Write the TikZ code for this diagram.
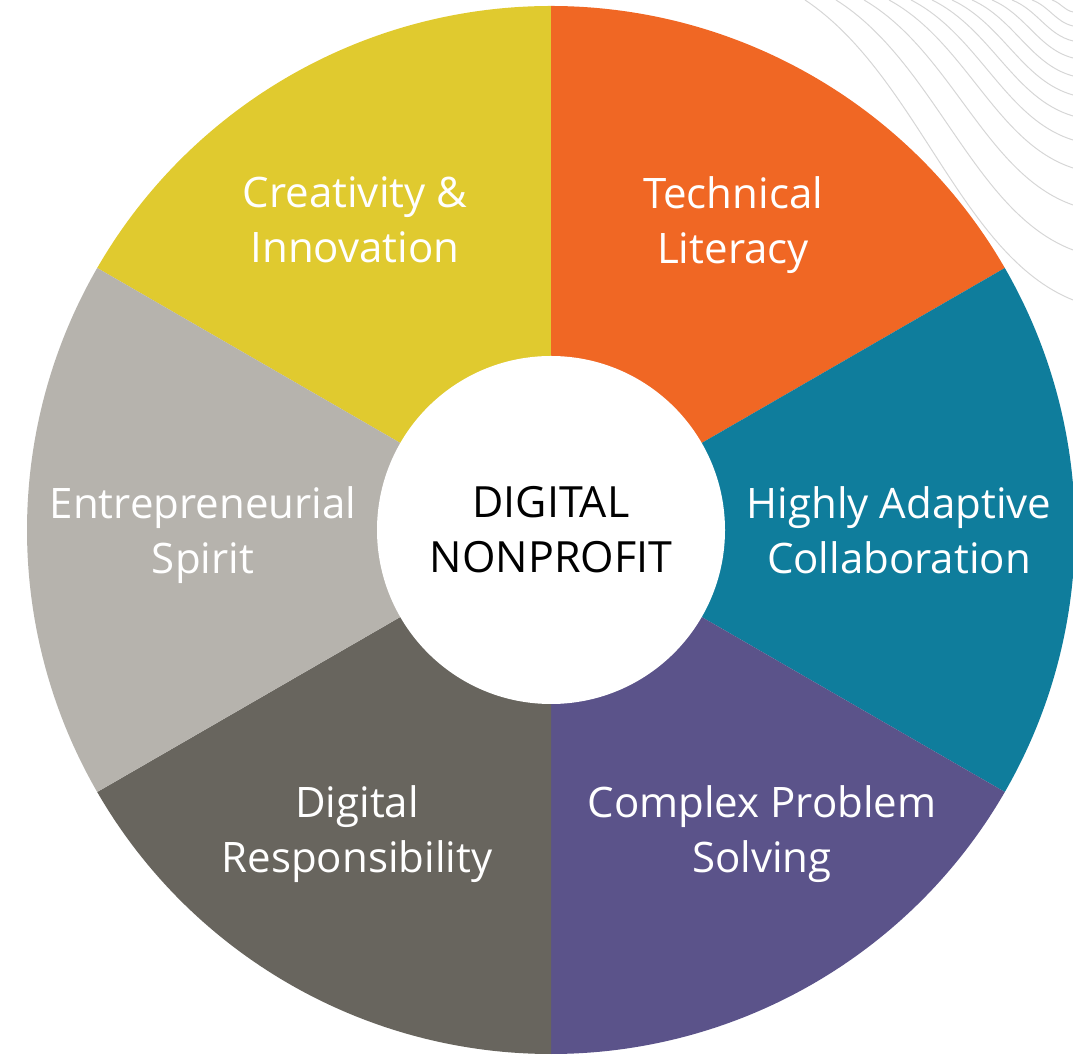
\documentclass[tikz,border=0pt]{standalone}
\usepackage{fontspec}
\setmainfont{Open Sans}

\definecolor{wheelyellow}{HTML}{E0CA2F}
\definecolor{wheelorange}{HTML}{F06724}
\definecolor{wheelteal}{HTML}{0F7D9C}
\definecolor{wheelpurple}{HTML}{5B538A}
\definecolor{wheeldark}{HTML}{68655E}
\definecolor{wheellight}{HTML}{B6B3AD}
\definecolor{contour}{HTML}{D6D6D6}

\tikzset{
  wedgetext/.style={text=white, align=center, inner sep=0pt,
    font={\fontsize{42}{55}\selectfont}},
}

\begin{document}
\begin{tikzpicture}[x=1pt, y=1pt]

\useasboundingbox (0,0) rectangle (1073,1057);

\foreach \sx/\ey in {805/300, 836/250, 864/205, 889/168, 911/140, 932/116,
  952/95, 972/76, 992/58, 1012/41, 1032/26, 1052/12}
  \draw[contour, line width=1pt]
    (\sx,1057) .. controls ({\sx+0.42*(1073-\sx)},{1057-0.25*\ey})
    and ({\sx+0.58*(1073-\sx)},{1057-0.85*\ey}) .. (1073,{1057-\ey});

\coordinate (c) at (551,527);

\fill[wheelyellow] (c) -- ++(90:524) arc (90:150:524) -- cycle;
\fill[wheelorange] (c) -- ++(30:524) arc (30:90:524) -- cycle;
\fill[wheelteal] (c) -- ++(-30:524) arc (-30:30:524) -- cycle;
\fill[wheelpurple] (c) -- ++(-90:524) arc (-90:-30:524) -- cycle;
\fill[wheeldark] (c) -- ++(-150:524) arc (-150:-90:524) -- cycle;
\fill[wheellight] (c) -- ++(150:524) arc (150:210:524) -- cycle;

\node [circle, fill=white, minimum size=348pt, align=center, inner sep=0pt,
font={\fontsize{43}{55}\selectfont}] (hub) at (c) {DIGITAL\\NONPROFIT};

\node [wedgetext] (creativity) at (355,837) {Creativity \&\\Innovation};
\node [wedgetext] (technical) at (733,832) {Technical\\Literacy};
\node [wedgetext] (adaptive) at (899,527) {Highly Adaptive\\Collaboration};
\node [wedgetext] (complex) at (762,223) {Complex Problem\\Solving};
\node [wedgetext] (responsibility) at (357,223) {Digital\\Responsibility};
\node [wedgetext] (entrepreneurial) at (203,522) {Entrepreneurial\\Spirit};

\end{tikzpicture}
\end{document}
